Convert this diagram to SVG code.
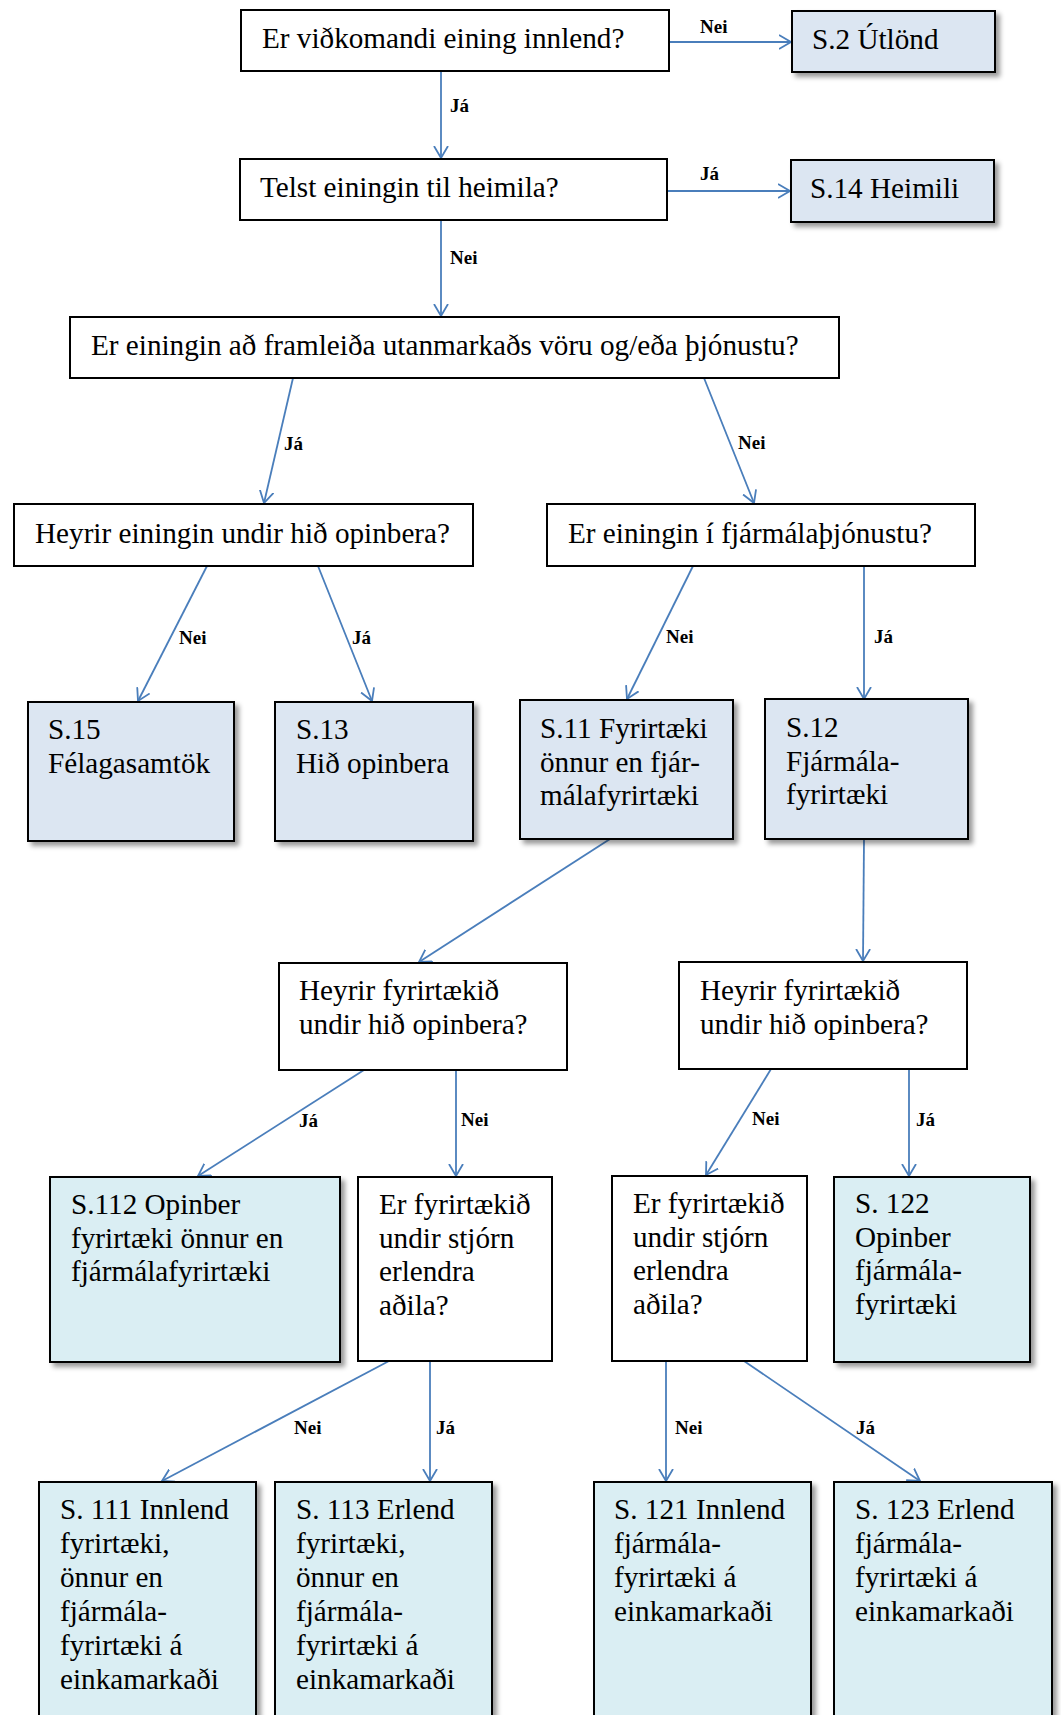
<svg xmlns="http://www.w3.org/2000/svg" width="1061" height="1715" viewBox="0 0 1061 1715">
<style>
.q{fill:#fff;stroke:#000;stroke-width:2}
.r1{fill:#DCE6F2;stroke:#000;stroke-width:2;filter:url(#sh)}
.r2{fill:#DAEEF3;stroke:#000;stroke-width:2;filter:url(#sh)}
.t{font-family:"Liberation Serif","Times New Roman",serif;font-size:29.2px;fill:#000}
.l{font-family:"Liberation Serif","Times New Roman",serif;font-size:19px;font-weight:bold;fill:#000}
.c{stroke:#4A7EBB;stroke-width:1.8;fill:none;marker-end:url(#ah)}
</style>
<defs>
<filter id="sh" x="-10%" y="-10%" width="130%" height="130%">
<feDropShadow dx="4" dy="4" stdDeviation="2.5" flood-color="#000" flood-opacity="0.4"/>
</filter>
<marker id="ah" markerUnits="userSpaceOnUse" markerWidth="16" markerHeight="16" refX="12" refY="7" orient="auto" viewBox="0 0 16 14">
<path d="M0,0 L12,7 L0,14" fill="none" stroke="#4A7EBB" stroke-width="1.8"/>
</marker>
</defs>
<g id="connectors">
<line class="c" x1="669" y1="42" x2="791" y2="42"/>
<line class="c" x1="441" y1="71" x2="441" y2="158"/>
<line class="c" x1="666" y1="191" x2="790" y2="191"/>
<line class="c" x1="441" y1="220" x2="441" y2="316"/>
<line class="c" x1="293" y1="378" x2="264" y2="503"/>
<line class="c" x1="704" y1="378" x2="754" y2="503"/>
<line class="c" x1="207" y1="566" x2="138" y2="701"/>
<line class="c" x1="318" y1="566" x2="372" y2="701"/>
<line class="c" x1="693" y1="566" x2="627" y2="699"/>
<line class="c" x1="864" y1="566" x2="864" y2="699"/>
<line class="c" x1="610" y1="839" x2="419" y2="962"/>
<line class="c" x1="864" y1="839" x2="863" y2="961"/>
<line class="c" x1="364" y1="1070" x2="198" y2="1176"/>
<line class="c" x1="456" y1="1070" x2="456" y2="1176"/>
<line class="c" x1="771" y1="1069" x2="706" y2="1175"/>
<line class="c" x1="909" y1="1069" x2="909" y2="1176"/>
<line class="c" x1="389" y1="1361" x2="162" y2="1481"/>
<line class="c" x1="430" y1="1361" x2="430" y2="1481"/>
<line class="c" x1="666" y1="1361" x2="666" y2="1481"/>
<line class="c" x1="744" y1="1361" x2="920" y2="1481"/>
<text class="l" x="700" y="33">Nei</text>
<text class="l" x="450" y="112">Já</text>
<text class="l" x="700" y="180">Já</text>
<text class="l" x="450" y="264">Nei</text>
<text class="l" x="284" y="450">Já</text>
<text class="l" x="738" y="449">Nei</text>
<text class="l" x="179" y="644">Nei</text>
<text class="l" x="352" y="644">Já</text>
<text class="l" x="666" y="643">Nei</text>
<text class="l" x="874" y="643">Já</text>
<text class="l" x="299" y="1127">Já</text>
<text class="l" x="461" y="1126">Nei</text>
<text class="l" x="752" y="1125">Nei</text>
<text class="l" x="916" y="1126">Já</text>
<text class="l" x="294" y="1434">Nei</text>
<text class="l" x="436" y="1434">Já</text>
<text class="l" x="675" y="1434">Nei</text>
<text class="l" x="856" y="1434">Já</text>
</g>
<g id="q1"><rect class="q" x="241" y="10" width="428" height="61"/><text class="t" x="262" y="48">Er viðkomandi eining innlend?</text></g>
<g id="s2"><rect class="r1" x="792" y="11" width="203" height="61"/><text class="t" x="812" y="49">S.2 Útlönd</text></g>
<g id="q2"><rect class="q" x="240" y="159" width="427" height="61"/><text class="t" x="260" y="197">Telst einingin til heimila?</text></g>
<g id="s14"><rect class="r1" x="791" y="160" width="203" height="62"/><text class="t" x="810" y="198">S.14 Heimili</text></g>
<g id="q3"><rect class="q" x="70" y="317" width="769" height="61"/><text class="t" x="91" y="355">Er einingin að framleiða utanmarkaðs vöru og/eða þjónustu?</text></g>
<g id="q4"><rect class="q" x="14" y="504" width="459" height="62"/><text class="t" x="35" y="543">Heyrir einingin undir hið opinbera?</text></g>
<g id="q5"><rect class="q" x="547" y="504" width="428" height="62"/><text class="t" x="568" y="543">Er einingin í fjármálaþjónustu?</text></g>
<g id="s15"><rect class="r1" x="28" y="702" width="206" height="139"/><text class="t" x="48" y="739">S.15<tspan x="48" dy="34">Félagasamtök</tspan></text></g>
<g id="s13"><rect class="r1" x="275" y="702" width="198" height="139"/><text class="t" x="296" y="739">S.13<tspan x="296" dy="34">Hið opinbera</tspan></text></g>
<g id="s11"><rect class="r1" x="520" y="700" width="213" height="139"/><text class="t" x="540" y="738">S.11 Fyrirtæki<tspan x="540" dy="33.5">önnur en fjár-</tspan><tspan x="540" dy="33.5">málafyrirtæki</tspan></text></g>
<g id="s12"><rect class="r1" x="765" y="699" width="203" height="140"/><text class="t" x="786" y="737">S.12<tspan x="786" dy="33.5">Fjármála-</tspan><tspan x="786" dy="33.5">fyrirtæki</tspan></text></g>
<g id="q6"><rect class="q" x="279" y="963" width="288" height="107"/><text class="t" x="299" y="1000">Heyrir fyrirtækið<tspan x="299" dy="33.5">undir hið opinbera?</tspan></text></g>
<g id="q7"><rect class="q" x="679" y="962" width="288" height="107"/><text class="t" x="700" y="1000">Heyrir fyrirtækið<tspan x="700" dy="33.5">undir hið opinbera?</tspan></text></g>
<g id="s112"><rect class="r2" x="50" y="1177" width="290" height="185"/><text class="t" x="71" y="1214">S.112 Opinber<tspan x="71" dy="33.5">fyrirtæki önnur en</tspan><tspan x="71" dy="33.5">fjármálafyrirtæki</tspan></text></g>
<g id="q8"><rect class="q" x="358" y="1177" width="194" height="184"/><text class="t" x="379" y="1214">Er fyrirtækið<tspan x="379" dy="33.5">undir stjórn</tspan><tspan x="379" dy="33.5">erlendra</tspan><tspan x="379" dy="33.5">aðila?</tspan></text></g>
<g id="q9"><rect class="q" x="612" y="1176" width="195" height="185"/><text class="t" x="633" y="1213">Er fyrirtækið<tspan x="633" dy="33.5">undir stjórn</tspan><tspan x="633" dy="33.5">erlendra</tspan><tspan x="633" dy="33.5">aðila?</tspan></text></g>
<g id="s122"><rect class="r2" x="834" y="1177" width="196" height="185"/><text class="t" x="855" y="1213">S. 122<tspan x="855" dy="33.5">Opinber</tspan><tspan x="855" dy="33.5">fjármála-</tspan><tspan x="855" dy="33.5">fyrirtæki</tspan></text></g>
<g id="s111"><rect class="r2" x="39" y="1482" width="217" height="260"/><text class="t" x="60" y="1519">S. 111 Innlend<tspan x="60" dy="34">fyrirtæki,</tspan><tspan x="60" dy="34">önnur en</tspan><tspan x="60" dy="34">fjármála-</tspan><tspan x="60" dy="34">fyrirtæki á</tspan><tspan x="60" dy="34">einkamarkaði</tspan></text></g>
<g id="s113"><rect class="r2" x="275" y="1482" width="217" height="260"/><text class="t" x="296" y="1519">S. 113 Erlend<tspan x="296" dy="34">fyrirtæki,</tspan><tspan x="296" dy="34">önnur en</tspan><tspan x="296" dy="34">fjármála-</tspan><tspan x="296" dy="34">fyrirtæki á</tspan><tspan x="296" dy="34">einkamarkaði</tspan></text></g>
<g id="s121"><rect class="r2" x="594" y="1482" width="217" height="260"/><text class="t" x="614" y="1519">S. 121 Innlend<tspan x="614" dy="34">fjármála-</tspan><tspan x="614" dy="34">fyrirtæki á</tspan><tspan x="614" dy="34">einkamarkaði</tspan></text></g>
<g id="s123"><rect class="r2" x="834" y="1482" width="218" height="260"/><text class="t" x="855" y="1519">S. 123 Erlend<tspan x="855" dy="34">fjármála-</tspan><tspan x="855" dy="34">fyrirtæki á</tspan><tspan x="855" dy="34">einkamarkaði</tspan></text></g>
</svg>
